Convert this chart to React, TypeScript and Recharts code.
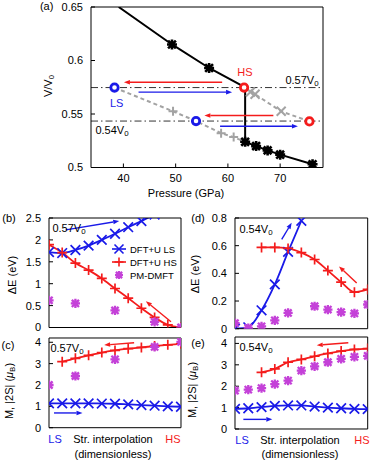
import React from "react";
import { ComposedChart, Line, XAxis, YAxis, ReferenceLine } from "recharts";

const FONT = '"Liberation Sans", Arial, Helvetica, sans-serif';
const BLUE = "#1a1ae8";
const RED = "#f41c1c";
const MAGENTA = "#c441d8";
const GRAY = "#a3a3a3";

// ---- (a) V/V0 against pressure
const pressTicks = [40, 50, 60, 70];
const volTicks = [0.5, 0.55, 0.6, 0.65];
const eqP = [39.1, 49.3, 56.4, 63.3, 63.3, 65.4, 67.6, 70.0, 76.2];
const eqV = [0.65, 0.615, 0.593, 0.575, 0.524, 0.52, 0.516, 0.512, 0.503];
const eqMarkP = [49.3, 56.4, 63.3, 65.4, 67.6, 70.0, 76.2];
const eqMarkV = [0.615, 0.593, 0.524, 0.52, 0.516, 0.512, 0.503];
const lsPathP = [38.3, 49.5, 53.9, 58.7, 61.1, 63.3];
const lsPathV = [0.5747, 0.5525, 0.5434, 0.532, 0.5284, 0.524];
const lsMarkP = [49.5, 58.7, 61.1];
const lsMarkV = [0.5525, 0.532, 0.5284];
const hsPathP = [63.1, 64.3, 65.2, 70.2, 75.6];
const hsPathV = [0.5747, 0.5706, 0.5684, 0.5525, 0.5431];
const hsMarkP = [64.3, 65.2, 70.2];
const hsMarkV = [0.5706, 0.5684, 0.5525];
const lsCircP = [38.3, 53.9];
const lsCircV = [0.5747, 0.5434];
const hsCircP = [63.1, 75.6];
const hsCircV = [0.5747, 0.5431];
const fixedVol = [0.5747, 0.5434];
const arrowsA = [
  { spin: "hs", from: [58.9, 0.5797], to: [40.1, 0.5797] },
  { spin: "ls", from: [42.9, 0.5704], to: [60.8, 0.5704] },
  { spin: "hs", from: [68.7, 0.5486], to: [55.5, 0.5486] },
  { spin: "ls", from: [58.5, 0.5386], to: [73.4, 0.5386] },
];

// ---- (b)-(e) structural interpolation LS -> HS
const strain = [0, 1, 2, 3, 4, 5, 6, 7, 8, 9, 10];
const dE57LS = [1.72, 1.7, 1.77, 1.87, 2.0, 2.14, 2.29, 2.43, 2.58, null, null];
const dE57HS = [1.89, 1.71, 1.47, 1.31, 1.12, 0.89, 0.67, 0.44, 0.23, 0.06, 0.0];
const dE57DMFT = [0.62, null, 0.55, null, null, 0.39, null, null, 0.13, null, 0.0];
const m57LS = [1.14, 1.14, 1.14, 1.14, 1.13, 1.12, 1.09, 1.06, 1.03, 1.0, 0.98];
const m57HS = [null, 3.09, 3.25, 3.39, 3.52, 3.62, 3.7, 3.76, 3.82, 3.88, 3.93];
const m57DMFT = [2.0, null, 2.42, null, null, 3.2, null, null, 3.78, null, 4.02];
const dE54LS = [0, 0.01, 0.133, 0.32, 0.555, 0.78, null, null, null, null, null];
const dE54HS = [null, null, 0.587, 0.587, 0.58, 0.55, 0.5, 0.42, 0.337, 0.264, 0.284];
const dE54DMFT = [0.04, 0.005, 0.017, 0.06, 0.114, null, 0.162, 0.138, 0.12, 0.11, 0.175];
const m54LS = [0.94, 0.97, 1.02, 1.08, 1.1, 1.1, 1.05, 1.0, 0.97, 0.94, 0.93];
const m54HS = [null, null, 2.65, 2.81, 3.12, 3.25, 3.4, 3.53, 3.64, 3.72, 3.76];
const m54DMFT = [1.79, 1.84, 1.91, 2.1, 2.26, 2.73, 2.93, 3.12, 3.28, 3.37, 3.42];
const dE57Ticks = [0, 0.5, 1, 1.5, 2, 2.5];
const dE54Ticks = [0, 0.2, 0.4, 0.6, 0.8];
const mTicks = [0, 1, 2, 3, 4];
const arrowsB = [
  { spin: "ls", from: [1.27, 2.23], to: [5.32, 2.43] },
  { spin: "hs", from: [9.24, 0.13], to: [7.34, 0.6] },
];
const arrowsC = [
  { spin: "ls", from: [0.38, 0.69], to: [2.54, 0.69] },
  { spin: "hs", from: [6.45, 3.98], to: [4.18, 3.87] },
];
const arrowsD = [
  { spin: "ls", from: [3.52, 0.645], to: [4.27, 0.765] },
  { spin: "hs", from: [9.17, 0.33], to: [7.84, 0.45] },
];
const arrowsE = [
  { spin: "ls", from: [0.63, 0.45], to: [2.81, 0.45] },
  { spin: "hs", from: [8.54, 4.03], to: [6.16, 3.92] },
];

const zipXY = (xs: number[], ys: (number | null)[]) => xs.map((x, i) => ({ x, y: ys[i] }));
const rows = (ls: any[], hs: any[], dm: any[]) =>
  strain.map((x, i) => ({ x, ls: ls[i], hs: hs[i], dm: dm[i] }));

function mark(kind: string, color: string, r: number, w: number) {
  return (p: any) => {
    const { cx, cy, index } = p;
    if (cx == null || cy == null || Number.isNaN(cy)) return <g key={`m${index}`} />;
    if (kind === "o")
      return <circle key={`m${index}`} cx={cx} cy={cy} r={r} fill="#fff" stroke={color} strokeWidth={w} />;
    let d = "";
    if (kind === "x" || kind === "*") {
      const s = kind === "*" ? r * 0.78 : r;
      d += `M${cx - s},${cy - s}L${cx + s},${cy + s}M${cx - s},${cy + s}L${cx + s},${cy - s}`;
    }
    if (kind === "+" || kind === "*") d += `M${cx - r},${cy}L${cx + r},${cy}M${cx},${cy - r}L${cx},${cy + r}`;
    return <path key={`m${index}`} d={d} stroke={color} strokeWidth={w} fill="none" />;
  };
}

function arrowShape(color: string) {
  return (p: any) => {
    const { x1, y1, x2, y2 } = p;
    const a = Math.atan2(y2 - y1, x2 - x1);
    const L = 6;
    const W = 2.3;
    const bx = x2 - L * Math.cos(a);
    const by = y2 - L * Math.sin(a);
    const px = -Math.sin(a) * W;
    const py = Math.cos(a) * W;
    return (
      <g>
        <line x1={x1} y1={y1} x2={bx} y2={by} stroke={color} strokeWidth={1.4} />
        <path d={`M${x2},${y2}L${bx + px},${by + py}L${bx - px},${by - py}Z`} fill={color} />
      </g>
    );
  };
}

const arrows = (list: any[]) =>
  list.map((a, i) => (
    <ReferenceLine
      key={`ar${i}`}
      segment={[{ x: a.from[0], y: a.from[1] }, { x: a.to[0], y: a.to[1] }]}
      shape={arrowShape(a.spin === "hs" ? RED : BLUE)}
      ifOverflow="visible"
    />
  ));

type Box = { l: number; t: number; r: number; b: number };
const YW = 44;
const MT = 9;
const MR = 3;
const MB = 9;

function Plot({ box, xDom, yDom, yTicks, xTicks, data, children }: any) {
  const xh = xTicks ? 24 : 1;
  const w = YW + (box.r - box.l) + 1 + MR;
  const h = MT + 1 + (box.b - box.t) + xh + MB;
  const tickStyle = { fontSize: 11, fill: "#000", fontFamily: FONT };
  const ax = { stroke: "#000", strokeWidth: 1 };
  return (
    <div style={{ position: "absolute", left: box.l - YW, top: box.t - MT - 1 }}>
      <ComposedChart width={w} height={h} data={data} margin={{ top: MT, right: MR, bottom: MB, left: 0 }}>
        <XAxis dataKey="x" type="number" domain={xDom} allowDataOverflow height={xh} ticks={xTicks}
          tick={xTicks ? tickStyle : false} tickLine={xTicks ? ax : false} tickSize={-4} tickMargin={11}
          axisLine={ax} interval={0} />
        <XAxis xAxisId="top" dataKey="x" orientation="top" type="number" domain={xDom} allowDataOverflow
          height={1} ticks={xTicks} tick={false} tickLine={xTicks ? ax : false} tickSize={-4} axisLine={ax} interval={0} />
        <YAxis type="number" domain={yDom} allowDataOverflow width={YW} ticks={yTicks} tick={tickStyle}
          tickLine={ax} tickSize={-4} tickMargin={12} axisLine={ax} interval={0} />
        <YAxis yAxisId="right" orientation="right" type="number" domain={yDom} allowDataOverflow width={1}
          ticks={yTicks} tick={false} tickLine={ax} tickSize={-4} axisLine={ax} interval={0} />
        {children}
      </ComposedChart>
    </div>
  );
}

function Sub({ children }: any) {
  return <span style={{ fontSize: "0.72em", position: "relative", top: "0.3em" }}>{children}</span>;
}

function T({ x, y, children, color = "#000", size = 11, rot = false }: any) {
  return (
    <div style={{
      position: "absolute", left: x, top: y, color, fontSize: size, fontFamily: FONT, whiteSpace: "nowrap",
      lineHeight: 1, transform: `translate(-50%,-50%)${rot ? " rotate(-90deg)" : ""}`,
    }}>
      {children}
    </div>
  );
}

function spinSeries() {
  return [
    <Line key="ls" dataKey="ls" type="monotone" stroke={BLUE} strokeWidth={1.8} dot={mark("x", BLUE, 4.8, 1.7)}
      activeDot={false} isAnimationActive={false} />,
    <Line key="hs" dataKey="hs" type="monotone" stroke={RED} strokeWidth={1.8} dot={mark("+", RED, 5, 1.7)}
      activeDot={false} isAnimationActive={false} />,
    <Line key="dm" dataKey="dm" stroke="none" dot={mark("*", MAGENTA, 4.6, 2.3)} activeDot={false}
      isAnimationActive={false} />,
  ];
}

function LegendB() {
  const items = [
    { label: "DFT+U LS", color: BLUE, kind: "x", line: true },
    { label: "DFT+U HS", color: RED, kind: "+", line: true },
    { label: "PM-DMFT", color: MAGENTA, kind: "*", line: false },
  ];
  return (
    <>
      {items.map((it, i) => (
        <div key={it.label} style={{ position: "absolute", left: 112, top: 243 + i * 13, height: 12, display: "flex",
          alignItems: "center", fontFamily: FONT, fontSize: 9.5 }}>
          <svg width={14} height={12}>
            {it.line && <line x1={0} y1={6} x2={14} y2={6} stroke={it.color} strokeWidth={1.6} />}
            {mark(it.kind, it.color, it.kind === "*" ? 4 : 4.5, it.kind === "*" ? 2.2 : 1.6)({ cx: 7, cy: 6, index: 0 })}
          </svg>
          <span style={{ marginLeft: 4 }}>{it.label}</span>
        </div>
      ))}
    </>
  );
}

export default function App() {
  const boxA: Box = { l: 91, t: 6.5, r: 323, b: 167 };
  const boxB: Box = { l: 48.5, t: 218, r: 180.5, b: 327.5 };
  const boxC: Box = { l: 48.5, t: 338.3, r: 180.5, b: 428 };
  const boxD: Box = { l: 235, t: 218.3, r: 367.7, b: 329 };
  const boxE: Box = { l: 235, t: 337, r: 367.7, b: 429 };
  return (
    <div style={{ position: "absolute", left: 0, top: 0, width: 374, height: 461, background: "#fff", fontFamily: FONT }}>
      <Plot box={boxA} xDom={[33.8, 78.2]} yDom={[0.5, 0.65]} yTicks={volTicks} xTicks={pressTicks}>
        {fixedVol.map((v) => (
          <ReferenceLine key={v} y={v} stroke="#333" strokeWidth={1} strokeDasharray="7 3 1.5 3" />
        ))}
        <Line data={zipXY(lsPathP, lsPathV)} dataKey="y" stroke={GRAY} strokeWidth={2} strokeDasharray="4 3"
          dot={false} activeDot={false} isAnimationActive={false} />
        <Line data={zipXY(hsPathP, hsPathV)} dataKey="y" stroke={GRAY} strokeWidth={2} strokeDasharray="4 3"
          dot={false} activeDot={false} isAnimationActive={false} />
        <Line data={zipXY(lsMarkP, lsMarkV)} dataKey="y" stroke="none" dot={mark("+", GRAY, 4.5, 2)}
          activeDot={false} isAnimationActive={false} />
        <Line data={zipXY(hsMarkP, hsMarkV)} dataKey="y" stroke="none" dot={mark("x", GRAY, 4.5, 2)}
          activeDot={false} isAnimationActive={false} />
        <Line data={zipXY(eqP, eqV)} dataKey="y" stroke="#000" strokeWidth={2} dot={false} activeDot={false}
          isAnimationActive={false} />
        <Line data={zipXY(eqMarkP, eqMarkV)} dataKey="y" stroke="none" dot={mark("*", "#000", 5, 2.6)}
          activeDot={false} isAnimationActive={false} />
        <Line data={zipXY(lsCircP, lsCircV)} dataKey="y" stroke="none" dot={mark("o", BLUE, 3.7, 2.8)}
          activeDot={false} isAnimationActive={false} />
        <Line data={zipXY(hsCircP, hsCircV)} dataKey="y" stroke="none" dot={mark("o", RED, 3.7, 2.8)}
          activeDot={false} isAnimationActive={false} />
        {arrows(arrowsA)}
      </Plot>

      <Plot box={boxB} xDom={[0, 10]} yDom={[0, 2.5]} yTicks={dE57Ticks} data={rows(dE57LS, dE57HS, dE57DMFT)}>
        {arrows(arrowsB)}
        {spinSeries()}
      </Plot>
      <Plot box={boxC} xDom={[0, 10]} yDom={[0, 4.2]} yTicks={mTicks} data={rows(m57LS, m57HS, m57DMFT)}>
        {arrows(arrowsC)}
        {spinSeries()}
      </Plot>
      <Plot box={boxD} xDom={[0, 10]} yDom={[0, 0.8]} yTicks={dE54Ticks} data={rows(dE54LS, dE54HS, dE54DMFT)}>
        {arrows(arrowsD)}
        {spinSeries()}
      </Plot>
      <Plot box={boxE} xDom={[0, 10]} yDom={[0, 4.3]} yTicks={mTicks} data={rows(m54LS, m54HS, m54DMFT)}>
        {arrows(arrowsE)}
        {spinSeries()}
      </Plot>

      <LegendB />

      <T x={46.7} y={6}>(a)</T>
      <T x={47.7} y={86} rot>V/V<Sub>0</Sub></T>
      <T x={186} y={193}>Pressure (GPa)</T>
      <T x={245} y={72} color={RED}>HS</T>
      <T x={116.7} y={103} color={BLUE}>LS</T>
      <T x={302} y={80}>0.57V<Sub>0</Sub></T>
      <T x={112} y={130}>0.54V<Sub>0</Sub></T>

      <T x={9} y={218}>(b)</T>
      <T x={8} y={345}>(c)</T>
      <T x={198} y={218}>(d)</T>
      <T x={198} y={343}>(e)</T>
      <T x={12} y={275} rot>ΔE (eV)</T>
      <T x={195} y={274} rot>ΔE (eV)</T>
      <T x={8.5} y={391} rot>M, |2S| (<i>μ</i><Sub>B</Sub>)</T>
      <T x={191.5} y={390} rot>M, |2S| (<i>μ</i><Sub>B</Sub>)</T>
      <T x={69} y={228}>0.57V<Sub>0</Sub></T>
      <T x={67} y={348}>0.57V<Sub>0</Sub></T>
      <T x={256} y={229}>0.54V<Sub>0</Sub></T>
      <T x={256} y={347}>0.54V<Sub>0</Sub></T>

      <T x={55} y={439} color={BLUE}>LS</T>
      <T x={113} y={439}>Str. interpolation</T>
      <T x={173} y={439} color={RED}>HS</T>
      <T x={113} y={454}>(dimensionless)</T>
      <T x={242} y={440} color={BLUE}>LS</T>
      <T x={300} y={440}>Str. interpolation</T>
      <T x={362} y={440} color={RED}>HS</T>
      <T x={300} y={454}>(dimensionless)</T>
    </div>
  );
}
